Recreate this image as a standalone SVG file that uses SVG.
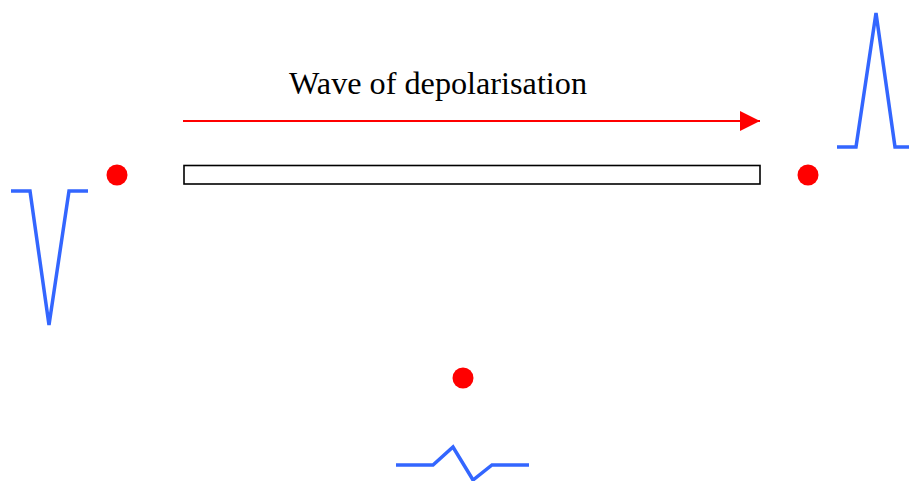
<svg xmlns="http://www.w3.org/2000/svg" width="909" height="481" viewBox="0 0 909 481">
<style>
.wave{fill:none;stroke:#3366ff;stroke-width:3.5;stroke-linejoin:miter}
.dot{fill:#ff0000}
.lbl{font-family:"Liberation Serif","Times New Roman",serif;font-size:32px;fill:#000}
</style>
<defs>
<marker id="ah" markerWidth="20" markerHeight="20" refX="20" refY="10" orient="auto" markerUnits="userSpaceOnUse">
<path d="M0,0 L20,10 L0,20 Z" fill="#ff0000"/>
</marker>
</defs>
<rect width="909" height="481" fill="#ffffff"/>
<g id="label"><text class="lbl" x="289" y="94" textLength="298" lengthAdjust="spacingAndGlyphs">Wave of depolarisation</text></g>
<g id="connectors">
<line x1="183" y1="121" x2="760" y2="121" stroke="#ff0000" stroke-width="2" marker-end="url(#ah)"/>
</g>
<g id="fibre"><rect x="184" y="165.5" width="576" height="18.5" fill="#ffffff" stroke="#000000" stroke-width="1.6"/></g>
<g id="left-electrode">
<circle class="dot" cx="117" cy="175" r="10.5"/>
<polyline class="wave" points="11,191 30,191 49,325 69,191 88,191"/>
</g>
<g id="right-electrode">
<circle class="dot" cx="808" cy="175" r="10.5"/>
<polyline class="wave" points="837,147 856,147 876,13 895,147 909,147"/>
</g>
<g id="bottom-electrode">
<circle class="dot" cx="463" cy="378" r="10.5"/>
<polyline class="wave" points="396,465 433,465 453,447 473,480 492,465 529,465"/>
</g>
</svg>
